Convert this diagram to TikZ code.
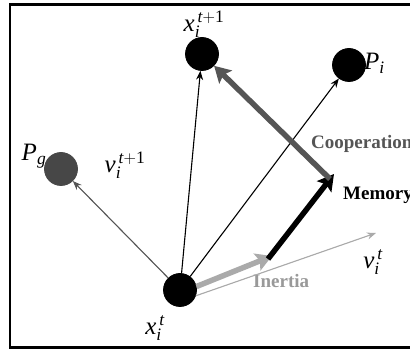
\documentclass[tikz,border=0pt]{standalone}
\usepackage{fontspec}
\setmainfont{Liberation Serif}
\usetikzlibrary{arrows.meta}
\definecolor{dgray}{HTML}{474747}
\definecolor{mgray}{HTML}{555555}
\definecolor{lgray}{HTML}{AAAAAA}
\definecolor{tgray}{HTML}{999999}
\tikzset{
  dot/.style={circle,draw=black,line width=0.8pt,fill=black,minimum size=33pt,inner sep=0pt},
  thinarrow/.style={line width=1.1pt,-{Stealth[length=9pt,width=7pt]}},
  thickarrow/.style={line width=5.5pt,-{Stealth[length=16pt,width=18pt,inset=3pt]}},
  mathlbl/.style={font=\fontsize{25}{27}\selectfont,inner sep=0pt},
  wordlbl/.style={font=\fontsize{19}{21}\selectfont\bfseries,inner sep=0pt,anchor=west}
}
\begin{document}
\begin{tikzpicture}[x=1pt,y=-1pt]
\useasboundingbox (0,0) rectangle (410,352);
\fill[white] (0,0) rectangle (410,352);
\draw[line width=2.5pt] (420,4.5) -- (10,4.5) -- (10,347.5) -- (420,347.5);
% nodes
\node[dot] (xt) at (180,290) {};
\node[dot] (xt1) at (202,54) {};
\node[dot] (pi) at (349,65) {};
\node[dot,fill=dgray,draw=dgray] (pg) at (61,169) {};
% labels
\node[mathlbl] (lxt1) at (204,24) {$\mathit{x}_{\mathit{i}}^{\,\mathit{t}\mathrm{+1}}$};
\node[mathlbl,anchor=west] (lpi) at (364,63) {$\mathit{P}_{\mathit{i}}$};
\node[mathlbl] (lpg) at (34,156) {$\mathit{P}_{\mathit{g}}$};
\node[mathlbl] (lvt1) at (125,165) {$\mathit{v}_{\mathit{i}}^{\,\mathit{t}\mathrm{+1}}$};
\node[mathlbl] (lxt) at (155,328) {$\mathit{x}_{\mathit{i}}^{\,\mathit{t}}$};
\node[mathlbl] (lvt) at (373,262) {$\mathit{v}_{\mathit{i}}^{\,\mathit{t}}$};
\node[wordlbl,text=mgray] (coop) at (311,144) {Cooperation};
\node[wordlbl] (mem) at (343,195) {Memory};
\node[wordlbl,text=tgray] (inert) at (253,281) {Inertia};
% coordinates
\coordinate (vt) at (376,233);
\coordinate (m1) at (272,256);
\coordinate (m2) at (334,174);
\coordinate (m2s) at (330,179);
% thin arrows
\draw[thinarrow] (xt) -- (xt1);
\draw[thinarrow] (xt) -- (pi);
\draw[thinarrow,draw=mgray,fill=mgray] (xt) -- (pg);
\draw[thinarrow,draw=lgray,fill=lgray] (xt.-20) -- (vt);
% thick arrows
\draw[thickarrow,draw=lgray,fill=lgray] (xt.12) -- (m1);
\draw[thickarrow,black] ([shift={(-4,3)}]m1) -- (m2);
\draw[thickarrow,draw=mgray,fill=mgray] (m2s) -- (xt1);
\end{tikzpicture}
\end{document}
